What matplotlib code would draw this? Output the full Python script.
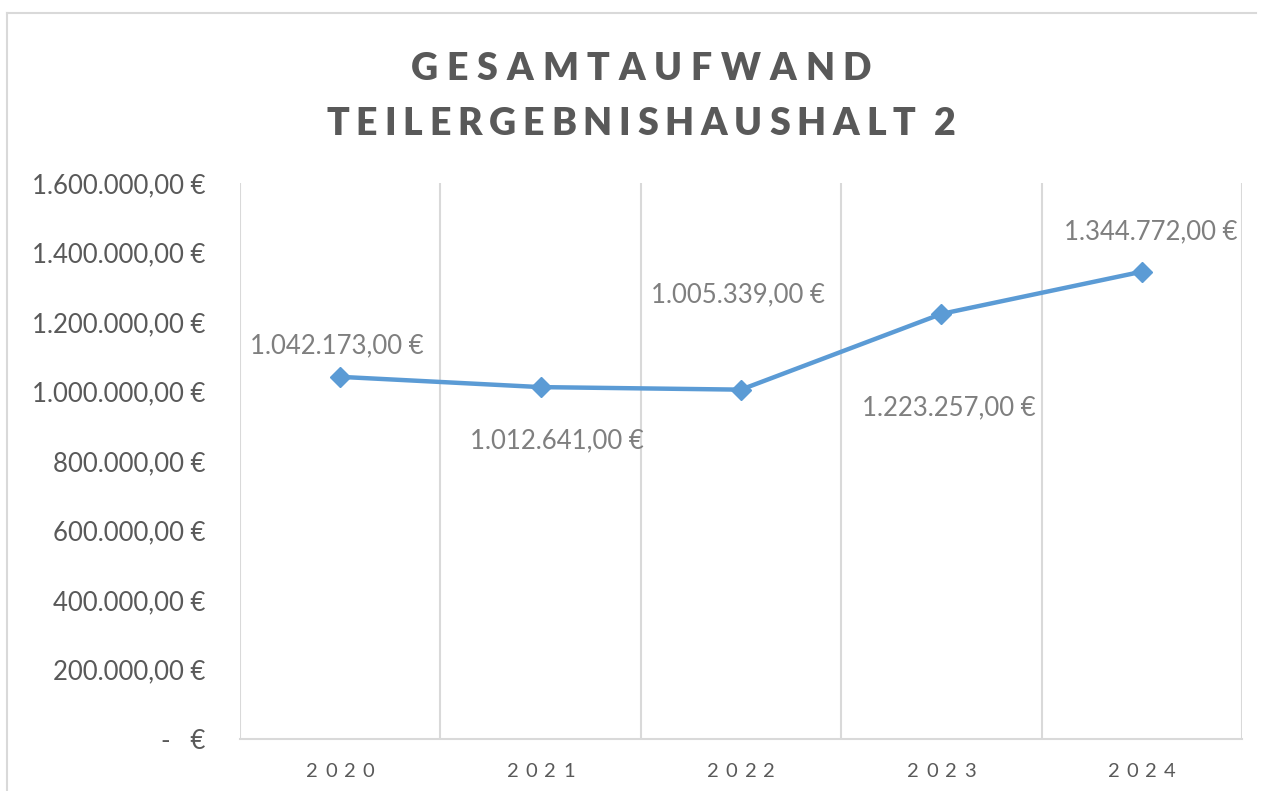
import matplotlib
matplotlib.use("Agg")
import matplotlib.pyplot as plt
from matplotlib.lines import Line2D
from matplotlib.ticker import FixedLocator, FuncFormatter
from matplotlib.transforms import IdentityTransform
from matplotlib.font_manager import FontProperties

plt.rcParams["font.family"] = ["Lato", "DejaVu Sans"]

# data
years = ["2020", "2021", "2022", "2023", "2024"]
aufwand = [1042173.00, 1012641.00, 1005339.00, 1223257.00, 1344772.00]
# label offsets in pixels (dx, dy) relative to the point
label_offsets = [(-3, 31), (16, -54), (-3, 95), (7, -94), (9, 40)]
title_lines = ["GESAMTAUFWAND", "TEILERGEBNISHAUSHALT 2"]

W, H = 1265, 791
GREY_TXT = "#595959"
GRID = "#d9d9d9"
BLUE = "#5b9bd5"


def euro(v):
    s = f"{v:,.2f}".replace(",", "X").replace(".", ",").replace("X", ".")
    return s + " €"


def spaced_text(fig, xc, y, s, spacing, space_px=12, **kw):
    """Text centred at pixel xc with extra letter spacing (pixels)."""
    r = fig.canvas.get_renderer()
    fp = FontProperties(family=kw.get("family", plt.rcParams["font.family"]),
                        size=kw.get("size", 12), weight=kw.get("weight", "normal"))

    def w(t):
        return r.get_text_width_height_descent(t, fp, ismath=False)[0]

    word = s.replace(" ", "")
    gaps = [0]
    for i in range(1, len(word)):
        gaps.append(gaps[-1] + spacing)
    # blank in the string -> extra gap before the following char
    pos = 0
    for i, ch in enumerate(s):
        if ch == " ":
            for j in range(pos, len(word)):
                gaps[j] += space_px
        else:
            pos += 1
    total = w(word) + gaps[-1]
    left = xc - total / 2
    for i, ch in enumerate(word):
        x = left + w(word[:i + 1]) - w(ch) + gaps[i]
        fig.text(x, y, ch, transform=IdentityTransform(), fontproperties=fp,
                 color=kw.get("color", GREY_TXT), ha="left", va="baseline")


fig = plt.figure(figsize=(W / 100, H / 100), dpi=100)
ax = fig.add_axes([240 / W, (H - 739) / H, (1242 - 240) / W, (739 - 183) / H])

x = list(range(len(years)))
ax.plot(x, aufwand, color=BLUE, lw=3.2, marker="D", markersize=10, zorder=3)

for xi, v, (dx, dy) in zip(x, aufwand, label_offsets):
    ax.annotate(euro(v), (xi, v), xytext=(dx, dy), textcoords="offset pixels",
                ha="center", va="center", fontsize=18.5, color="#7f7f7f")

ax.set_xlim(-0.5, len(years) - 0.5)
ax.set_ylim(0, 1600000)
ax.yaxis.set_major_locator(FixedLocator(range(0, 1600001, 200000)))
ax.yaxis.set_major_formatter(FuncFormatter(lambda v, p: "-   €" if v == 0 else euro(v)))
ax.tick_params(axis="y", length=0, pad=25, labelsize=18.5, labelcolor=GREY_TXT)

ax.xaxis.set_major_locator(FixedLocator([i - 0.5 for i in range(len(years) + 1)]))
ax.set_xticklabels([])
ax.tick_params(axis="x", length=0)
ax.grid(axis="x", color=GRID, lw=1.5)
ax.grid(axis="y", visible=False)

for side in ["top", "right", "left"]:
    ax.spines[side].set_visible(False)
ax.spines["bottom"].set_color(GRID)
ax.spines["bottom"].set_linewidth(1.5)

# outer chart border
fig.add_artist(Line2D([7 / W, 7 / W], [0, (H - 13) / H], color=GRID, lw=1.5))
fig.add_artist(Line2D([7 / W, 1256 / W], [(H - 13) / H, (H - 13) / H], color=GRID, lw=1.5))

fig.canvas.draw()

# category labels with letter spacing
for xi, yr in zip(x, years):
    px = ax.transData.transform((xi, 0))[0]
    spaced_text(fig, px, H - 777, yr, 7, size=14.5, color=GREY_TXT)

# title
spaced_text(fig, 641, H - 80, title_lines[0], 8.8, size=27, weight="heavy", color=GREY_TXT)
spaced_text(fig, 641, H - 135, title_lines[1], 6.8, size=27, weight="heavy", color=GREY_TXT)

fig.savefig("out.png", dpi=100)
